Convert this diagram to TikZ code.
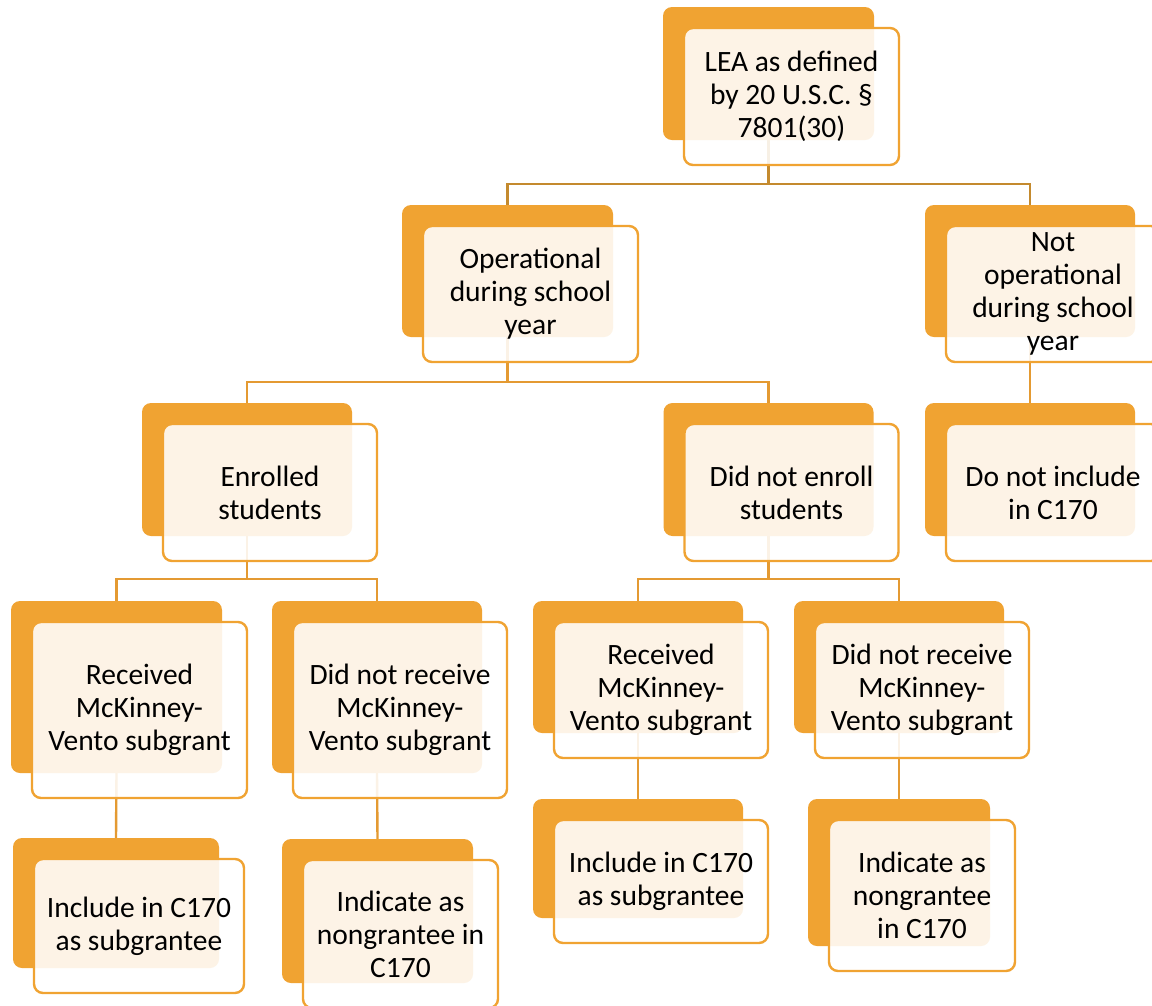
\documentclass[tikz,border=0pt]{standalone}
\usepackage{fontspec}
\setmainfont{Carlito}
\usetikzlibrary{calc,backgrounds}
\definecolor{boxorange}{RGB}{240,163,50}
\definecolor{connA}{RGB}{196,138,46}
\definecolor{connB}{RGB}{228,154,50}
\tikzset{
  backbox/.style={draw=none, fill=boxorange, rounded corners=9pt, inner sep=0pt},
  frontbox/.style={draw=boxorange, line width=2.4pt, fill=white, fill opacity=0.88, text opacity=1, draw opacity=1,
     rounded corners=9pt, inner sep=0pt, align=center, text=black,
     font=\fontsize{29.5}{33}\selectfont},
  connone/.style={draw=connA, line width=2.4pt},
  conntwo/.style={draw=connB, line width=2.4pt},
}
\newcommand\duobox[6]{%
  \node[backbox, minimum width=#4pt, minimum height=#5pt] (#1) at (#2,#3) {};
  \node[frontbox, minimum width=#4pt+4pt, minimum height=#5pt+4pt] (#1-f) at ($(#1)+(23,23)$) {#6};
}
\begin{document}
\begin{tikzpicture}[x=1pt,y=-1pt]
\useasboundingbox (0,0) rectangle (1152,1005);
\clip (0,0) rectangle (1152,1005);

\duobox{lea}{768.5}{73.5}{211}{133}{LEA as defined\\by 20 U.S.C. §\\7801(30)}
\duobox{op}{507.5}{271}{211}{132}{Operational\\during school\\year}
\duobox{nop}{1030}{271}{210}{132}{Not\\operational\\during school\\year}
\duobox{enr}{247}{469.5}{210}{133}{Enrolled\\students}
\duobox{nenr}{768.5}{469.5}{210}{133}{Did not enroll\\students}
\duobox{dni}{1030}{469.5}{210}{133}{Do not include\\in C170}
\duobox{recl}{116.5}{687}{211}{172}{Received\\McKinney-\\Vento subgrant}
\duobox{nrecl}{377}{687}{210}{172}{Did not receive\\McKinney-\\Vento subgrant}
\duobox{recr}{638}{667}{210}{132}{Received\\McKinney-\\Vento subgrant}
\duobox{nrecr}{899}{667}{210}{132}{Did not receive\\McKinney-\\Vento subgrant}
\duobox{incl}{116}{903}{206}{130}{Include in C170\\as subgrantee}
\duobox{indl}{377.5}{911}{191}{144}{Indicate as\\nongrantee in\\C170}
\duobox{incr}{638}{858.5}{210}{119}{Include in C170\\as subgrantee}
\duobox{indr}{899}{872.5}{182}{147}{Indicate as\\nongrantee\\in C170}

\begin{pgfonlayer}{background}
\fill[white] (0,0) rectangle (1152,1005);
\draw[connone] (lea.south) -- ++(0,44) -| (op.north);
\draw[connone] (lea.south) -- ++(0,44) -| (nop.north);
\draw[conntwo] (op.south) -- ++(0,45) -| (enr.north);
\draw[conntwo] (op.south) -- ++(0,45) -| (nenr.north);
\draw[conntwo] (nop.south) -- (dni.north);
\draw[conntwo] (enr.south) -- ++(0,43) -| (recl.north);
\draw[conntwo] (enr.south) -- ++(0,43) -| (nrecl.north);
\draw[conntwo] (nenr.south) -- ++(0,43) -| (recr.north);
\draw[conntwo] (nenr.south) -- ++(0,43) -| (nrecr.north);
\draw[conntwo] (recl.south) -- (incl.north);
\draw[conntwo] (nrecl.south) -- (indl.north);
\draw[conntwo] (recr.south) -- (incr.north);
\draw[conntwo] (nrecr.south) -- (indr.north);
\end{pgfonlayer}
\end{tikzpicture}
\end{document}
